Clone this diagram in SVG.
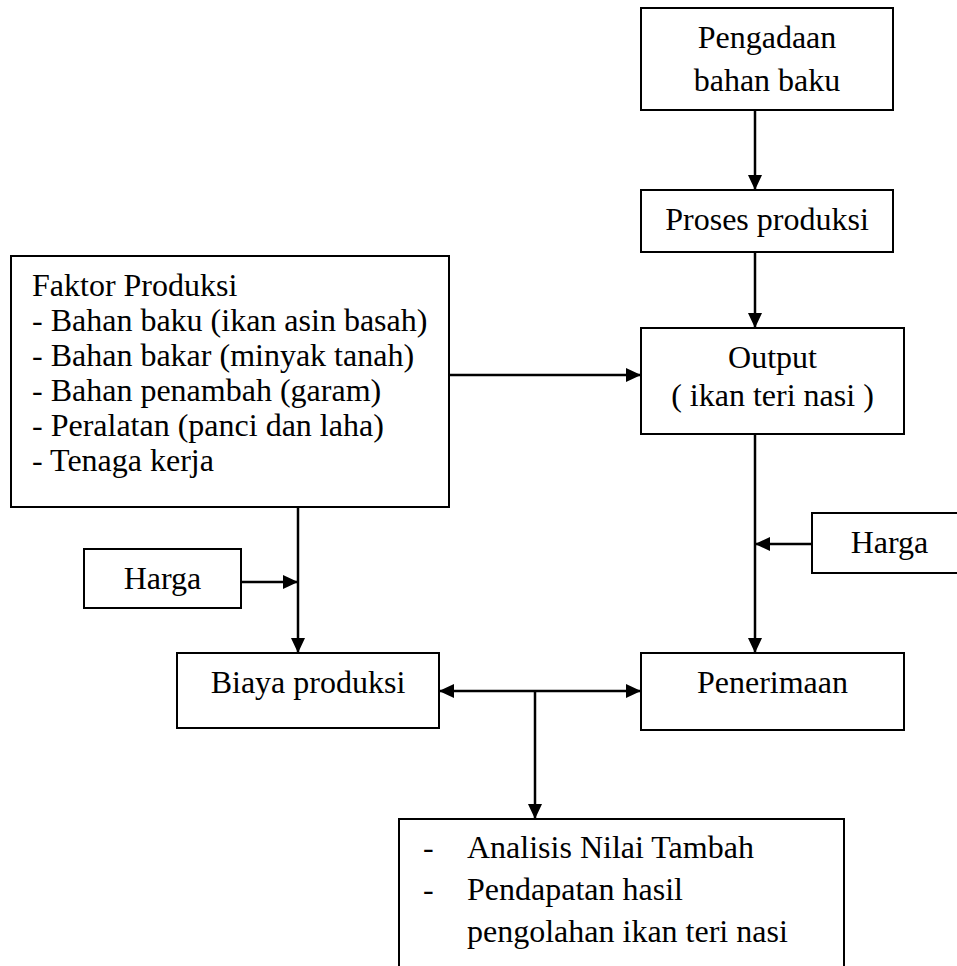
<svg xmlns="http://www.w3.org/2000/svg" width="957" height="966" viewBox="0 0 957 966">
<style>
.box{fill:#fff;stroke:#000;stroke-width:2}
text{font-family:'Liberation Serif','Times New Roman',Times,'DejaVu Serif',serif;font-size:32px;fill:#000}
.c{text-anchor:middle}
.ln{fill:none;stroke:#000;stroke-width:2.5}
</style>
<defs>
<marker id="ah" viewBox="0 0 15 14" refX="15" refY="7" markerWidth="15" markerHeight="14" markerUnits="userSpaceOnUse" orient="auto-start-reverse">
<path d="M0,0 L15,7 L0,14 Z" fill="#000"/>
</marker>
</defs>
<rect width="957" height="966" fill="#fff"/>
<g id="connectors">
<path class="ln" d="M755,110 V190" marker-end="url(#ah)"/>
<path class="ln" d="M755,252 V328" marker-end="url(#ah)"/>
<path class="ln" d="M449,375 H641" marker-end="url(#ah)"/>
<path class="ln" d="M755,434 V653" marker-end="url(#ah)"/>
<path class="ln" d="M812,544 H755" marker-end="url(#ah)"/>
<path class="ln" d="M298,507 V653" marker-end="url(#ah)"/>
<path class="ln" d="M241,582 H298" marker-end="url(#ah)"/>
<path class="ln" d="M439,691 H641" marker-start="url(#ah)" marker-end="url(#ah)"/>
<path class="ln" d="M535,691 V819" marker-end="url(#ah)"/>
</g>
<g id="pengadaan" font-family="Liberation Serif, serif">
<rect class="box" x="641" y="8" width="252" height="102"/>
<text class="c" x="767" y="48" font-family="Liberation Serif, serif">Pengadaan</text>
<text class="c" x="767" y="91" font-family="Liberation Serif, serif">bahan baku</text>
</g>
<g id="proses">
<rect class="box" x="641" y="190" width="252" height="62"/>
<text class="c" x="767" y="230">Proses produksi</text>
</g>
<g id="faktor">
<rect class="box" x="11" y="256" width="438" height="251"/>
<text x="32" y="296">Faktor Produksi</text>
<text x="32" y="331">- Bahan baku (ikan asin basah)</text>
<text x="32" y="366">- Bahan bakar (minyak tanah)</text>
<text x="32" y="401">- Bahan penambah (garam)</text>
<text x="32" y="436">- Peralatan (panci dan laha)</text>
<text x="32" y="471">- Tenaga kerja</text>
</g>
<g id="output">
<rect class="box" x="641" y="328" width="263" height="106"/>
<text class="c" x="772.5" y="368">Output</text>
<text class="c" x="772.5" y="406">( ikan teri nasi )</text>
</g>
<g id="harga-kanan">
<rect class="box" x="812" y="513" width="200" height="60"/>
<text class="c" x="889.5" y="553">Harga</text>
</g>
<g id="harga-kiri">
<rect class="box" x="84" y="549" width="157" height="59"/>
<text class="c" x="162.5" y="589">Harga</text>
</g>
<g id="biaya">
<rect class="box" x="177" y="653" width="262" height="75"/>
<text class="c" x="308" y="693">Biaya produksi</text>
</g>
<g id="penerimaan">
<rect class="box" x="641" y="653" width="263" height="77"/>
<text class="c" x="772.5" y="693">Penerimaan</text>
</g>
<g id="analisis">
<rect class="box" x="399" y="819" width="445" height="200"/>
<text x="423" y="858">-</text>
<text x="467" y="858">Analisis Nilai Tambah</text>
<text x="423" y="900">-</text>
<text x="467" y="900">Pendapatan hasil</text>
<text x="467" y="942">pengolahan ikan teri nasi</text>
</g>
</svg>
